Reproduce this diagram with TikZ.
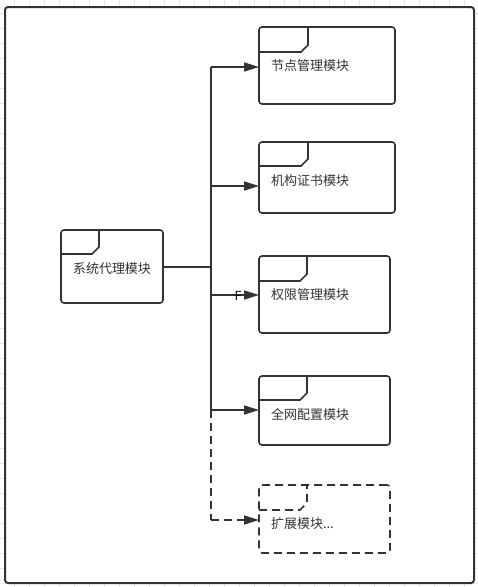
\documentclass[tikz,border=0pt]{standalone}
\usepackage{fontspec}
\setmainfont{Noto Sans CJK SC}
\usetikzlibrary{arrows.meta}
\definecolor{ink}{HTML}{333333}
\definecolor{gridgray}{HTML}{E6E6E6}
\begin{document}
\begin{tikzpicture}[x=1pt,y=-1pt,
  link/.style={draw=ink, line width=1.6pt},
  arr/.style={-{Triangle[length=15pt,width=9pt]}},
  dashlink/.style={dash pattern=on 8pt off 5pt},
  module/.style={draw=ink, line width=1.6pt, rounded corners=3pt, outer sep=0pt,
    anchor=north west, inner xsep=12pt, inner ysep=0pt, align=left,
    text=ink, font=\fontsize{13pt}{15pt}\selectfont, text height=43.3pt},
  gridline/.style={draw=gridgray, line width=0.6pt}]

  \useasboundingbox (0,0) rectangle (478,587);

  %% background grid and frame
  \foreach \gx in {14,29,...,474} \draw[gridline] (\gx,0) -- (\gx,587);
  \foreach \gy in {13,28,...,583} \draw[gridline] (0,\gy) -- (478,\gy);
  \draw[draw=ink, line width=2pt, rounded corners=3pt, fill=white] (5,7) rectangle (474,583);

  %% modules
  \node[module, align=center, text width=78pt, text depth=29.7pt] (src) at (61,230) {系统代理模块};
  \node[module, text width=112pt, text depth=33.7pt] (m1) at (259,27) {节点管理模块};
  \node[module, text width=112pt, text depth=27.7pt] (m2) at (259,142) {机构证书模块};
  \node[module, text width=107pt, text depth=33.7pt] (m3) at (259,256) {权限管理模块};
  \node[module, text width=107pt, text depth=25.7pt] (m4) at (259,376) {全网配置模块};
  \node[module, dashlink, text width=107pt, text depth=24.7pt] (m5) at (259,485) {扩展模块...};

  %% tabs
  \foreach \n/\w/\h in {src/38/24, m1/49/25, m2/49/24, m3/48/25, m4/48/24}
    \draw[link] (\n.north west) ++(0,\h) -- ++(\w-7,0) -- ++(7,-7) -- ++(0,-\h+7);
  \draw[link, dashlink] (m5.north west) ++(0,25) -- ++(41,0) -- ++(7,-7) -- ++(0,-18);

  %% junctions on the trunk
  \coordinate (j1) at (211,67);
  \coordinate (j2) at (211,186);
  \coordinate (jsrc) at (211,267);
  \coordinate (j3) at (211,295);
  \coordinate (j4) at (211,410);
  \coordinate (j5) at (211,520);

  %% connectors
  \draw[link] (src.east |- jsrc) -- (jsrc);
  \draw[link] (j1) -- (j4);
  \draw[link, dashlink] (j4) -- (j5);
  \foreach \i in {1,...,4}
    \draw[link, arr] (j\i) -- (m\i.west |- j\i);
  \draw[link, dashlink, arr] (j5) -- (m5.west |- j5);

  \node[text=black, inner sep=0pt, font=\fontsize{12.5pt}{14pt}\selectfont] (fmark) at (238,296) {F};

\end{tikzpicture}
\end{document}
